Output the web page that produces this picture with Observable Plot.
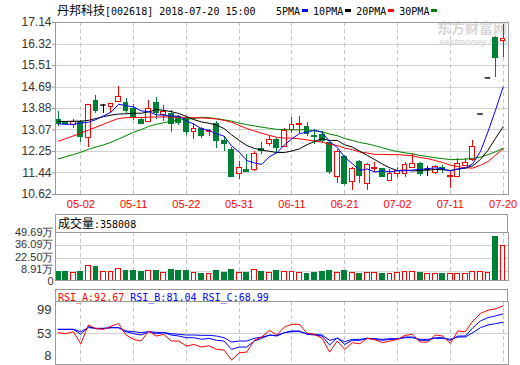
<!DOCTYPE html>
<html><head><meta charset="utf-8">
<script src="https://cdn.jsdelivr.net/npm/d3@7"></script>
<script src="https://cdn.jsdelivr.net/npm/@observablehq/plot@0.6"></script>
<style>
html,body{margin:0;padding:0;background:#fff;}
#wrap{position:relative;width:520px;height:365px;overflow:hidden;background:#fff;font-family:"Liberation Sans",Arial,sans-serif;}
.abs{position:absolute;}
.mono{font-family:"DejaVu Sans Mono","Liberation Mono",monospace;font-size:10px;white-space:pre;}
.cjk{font-family:"Noto Sans CJK SC",sans-serif;font-size:12px;}
.hdr{position:absolute;border:1px solid #9a9a9a;border-bottom:none;box-sizing:border-box;}
.sq{display:inline-block;width:6px;height:3px;margin:0 5px 0 2px;vertical-align:middle;}
</style></head><body>
<div id="wrap"></div>
<script>
// ---------- data ----------
const stockName = "丹邦科技";
const stockCode = "002618";
const stamp = "2018-07-20 15:00";
const maNames = ["5PMA","10PMA","20PMA","30PMA"];
const volLatest = "358008";
const rsiNames = ["RSI_A","RSI_B","RSI_C"];
const rsiLatest = ["92.67","81.04","68.99"];

const dates = ["04-25","04-26","04-27","05-02","05-03","05-04","05-07","05-08","05-09","05-10",
"05-11","05-14","05-15","05-16","05-17","05-18","05-21","05-22","05-23","05-24",
"05-25","05-28","05-29","05-30","05-31","06-01","06-04","06-05","06-06","06-07",
"06-08","06-11","06-12","06-13","06-14","06-15","06-19","06-20","06-21","06-22",
"06-25","06-26","06-27","06-28","06-29","07-02","07-03","07-04","07-05","07-06",
"07-09","07-10","07-11","07-12","07-13","07-16","07-17","07-18","07-19","07-20"];
const dateTicks = ["05-02","05-11","05-22","05-31","06-11","06-21","07-02","07-11","07-20"];

const openP = [13.44,13.36,13.25,13.37,12.77,14.18,14.01,13.94,14.12,14.08,
13.87,13.45,13.36,14.08,13.62,13.68,13.55,13.49,12.98,13.11,
12.98,13.30,12.64,12.32,11.40,11.54,11.54,12.33,12.55,12.70,
12.41,13.08,13.26,13.17,12.83,12.88,12.58,11.30,12.03,11.09,
11.84,11.03,11.60,11.57,11.15,11.40,11.40,11.64,11.78,11.58,
11.43,11.62,11.30,11.30,11.71,11.93,13.67,15.04,16.54,16.44];
const highP = [13.75,13.40,13.45,13.44,14.05,14.37,14.03,14.07,14.73,14.25,
14.05,13.53,14.20,14.28,14.00,13.80,13.60,13.55,13.30,13.17,
13.07,13.37,12.80,12.42,11.86,12.15,12.24,12.58,12.84,12.74,
13.11,13.54,13.58,13.36,13.10,13.00,12.67,12.34,12.10,11.65,
11.90,11.81,11.84,11.62,11.58,11.65,11.84,12.16,11.85,11.68,
11.73,11.71,11.50,12.00,11.98,12.66,13.67,15.04,16.60,17.08];
const lowP = [13.18,13.22,13.14,12.60,12.41,13.69,13.70,13.71,14.10,13.68,
13.42,13.27,13.35,13.45,13.40,12.98,13.25,12.85,12.70,12.75,
12.80,12.38,12.25,11.25,11.17,11.44,11.49,12.12,12.44,12.23,
12.41,12.93,12.94,12.80,12.52,12.57,11.36,11.05,10.97,10.76,
11.04,10.76,11.44,11.25,11.10,11.25,11.25,11.60,11.30,11.30,
11.39,11.43,10.86,11.28,11.68,11.87,13.67,15.04,15.04,15.80];
const closeP = [13.31,13.29,13.37,12.81,14.03,13.78,14.01,14.06,14.31,13.78,
13.52,13.30,13.87,13.72,13.74,13.30,13.32,12.98,13.11,12.82,
13.04,12.64,12.54,11.28,11.63,11.48,12.15,12.27,12.70,12.39,
13.01,13.26,13.30,12.92,12.79,12.64,11.46,12.22,11.03,11.59,
11.34,11.75,11.63,11.28,11.40,11.52,11.75,11.78,11.38,11.58,
11.66,11.58,11.33,11.79,11.80,12.43,13.67,15.04,15.80,16.52];
// volume in 万 (10k)
const volume = [8.6,8.6,7.9,9.3,14.5,13.5,9.3,9.3,11.4,9.7,
9.7,8.6,9.7,9.7,7.9,10.7,9.7,9.7,7.6,7.2,
7.2,9.7,7.6,10.7,7.9,7.9,10.4,8.6,7.9,9.7,
9.0,9.0,7.6,7.2,7.6,8.6,9.7,7.9,9.7,7.9,
7.2,7.6,7.6,7.2,7.2,7.6,8.6,9.3,7.6,6.6,
6.6,6.6,7.2,7.2,6.6,9.3,8.6,7.9,44.9,35.80];

const ma5 = [13.30,13.28,13.28,13.33,13.36,13.46,13.60,13.74,14.04,13.99,
13.94,13.79,13.76,13.64,13.63,13.59,13.59,13.41,13.29,13.11,
13.05,12.92,12.83,12.46,12.23,11.91,11.82,11.76,12.05,12.20,
12.50,12.73,12.93,12.98,13.06,12.98,12.62,12.41,12.03,11.79,
11.53,11.59,11.47,11.52,11.48,11.52,11.52,11.55,11.57,11.60,
11.63,11.60,11.51,11.59,11.63,11.79,12.25,13.00,13.82,14.69];
const ma10 = [13.39,13.39,13.40,13.40,13.43,13.50,13.57,13.63,13.67,13.68,
13.70,13.70,13.75,13.84,13.81,13.76,13.69,13.58,13.46,13.37,
13.32,13.25,13.12,12.88,12.67,12.48,12.37,12.30,12.26,12.21,
12.21,12.27,12.35,12.51,12.63,12.74,12.67,12.67,12.50,12.42,
12.26,12.10,11.94,11.77,11.63,11.52,11.55,11.51,11.54,11.54,
11.57,11.56,11.53,11.58,11.62,11.71,11.95,12.30,12.75,13.18];
const ma20 = [12.64,12.74,12.84,12.95,13.06,13.17,13.28,13.40,13.50,13.53,
13.54,13.54,13.55,13.56,13.56,13.56,13.55,13.54,13.53,13.52,
13.51,13.48,13.43,13.36,13.24,13.12,13.03,12.94,12.86,12.79,
12.76,12.76,12.73,12.69,12.65,12.61,12.52,12.48,12.38,12.32,
12.23,12.19,12.14,12.14,12.13,12.13,12.11,12.09,12.02,11.98,
11.91,11.83,11.73,11.68,11.63,11.62,11.73,11.87,12.11,12.35];
const ma30 = [11.97,12.05,12.13,12.22,12.33,12.42,12.50,12.60,12.72,12.85,
12.98,13.08,13.20,13.28,13.34,13.40,13.44,13.47,13.50,13.55,
13.53,13.50,13.45,13.40,13.33,13.27,13.22,13.17,13.13,13.09,
13.08,13.07,13.07,13.08,13.03,13.00,12.91,12.85,12.74,12.67,
12.59,12.54,12.47,12.39,12.31,12.25,12.20,12.16,12.10,12.06,
12.01,11.98,11.94,11.95,11.96,11.99,12.04,12.13,12.24,12.37];

const rsiA = [54.0,52.5,55.4,38.0,65.1,59.8,58.8,63.2,67.1,50.6,
44.3,41.9,56.4,49.1,51.6,41.9,41.9,34.6,37.0,33.2,
35.1,29.8,28.8,14.3,24.9,25.9,42.9,47.7,57.4,50.6,
62.2,66.1,66.1,53.0,51.6,45.8,25.9,41.9,29.8,39.5,
38.0,45.8,43.8,39.5,41.9,44.3,50.1,51.6,40.4,40.4,
50.6,49.1,38.5,56.4,55.4,70.9,81.6,86.4,88.4,92.67];
const rsiB = [58.8,58.8,58.8,51.6,62.7,59.8,59.8,61.2,61.2,55.4,
52.5,50.6,55.4,52.5,54.0,50.6,49.1,46.7,46.7,44.3,
45.8,42.9,41.9,29.8,33.2,33.2,41.9,45.8,50.6,49.1,
54.0,56.4,56.4,51.6,50.6,49.1,36.1,46.7,37.0,42.9,
42.9,45.8,44.3,42.9,44.3,44.3,47.7,47.7,42.9,42.9,
46.7,46.7,42.9,49.1,49.1,61.2,70.9,75.8,78.2,81.04];
const rsiC = [58.8,58.8,58.8,55.4,61.2,60.3,60.3,61.2,61.2,56.4,
55.4,54.0,55.4,54.5,54.0,52.5,51.6,50.6,50.6,50.1,
50.1,49.1,46.7,40.4,41.9,41.9,45.8,47.7,50.1,50.1,
54.0,55.4,55.4,52.5,51.6,50.6,42.9,45.8,40.9,44.3,
44.3,45.8,45.3,44.3,45.3,45.3,46.7,46.7,44.3,44.3,
45.8,45.8,44.3,47.7,47.7,54.0,61.2,65.1,67.1,68.99];

const priceTicks = [17.14,16.32,15.51,14.69,13.88,13.07,12.25,11.44,10.62];
const volTicks = [0,8.91,22.50,36.09,49.69];
const volTickLabels = ["0","8.91万","22.50万","36.09万","49.69万"];
const rsiTicks = [99,53,8];

// ---------- style ----------
const RED = "#ff0000", GREEN = "#007f37", BLUE = "#0000ff", BLACK = "#000000", MAGREEN = "#008000";
const GRID = "#d2d2d2", VGRID = "#c4c4c4", FRAME = "#9a9a9a", TXT = "#333333";
const maColors = [BLUE, BLACK, RED, MAGREEN];
const X_DOMAIN = [-0.36, 59.72];
const HALF = 0.32;
const volLabelShift = [1.2, -2.5, -1.7, -0.8, 0];   // label nudges (px), as in the reference
const rsiLabelShift = [8, 0, -9];

const candles = dates.map((date, i) => ({i, date, o: openP[i], h: highP[i], l: lowP[i], c: closeP[i], v: volume[i]}));
const tickIdx = dateTicks.map(t => dates.indexOf(t));
const upC = candles.filter(d => d.c > d.o);
const downC = candles.filter(d => d.c < d.o);
const flatC = candles.filter(d => d.c === d.o);
const volUp = candles.filter(d => d.c >= d.o);
const volDown = candles.filter(d => d.c < d.o);
const lineOf = (arr, color) => Plot.line(arr, {x: (d, i) => i, y: d => d, stroke: color, strokeWidth: 1});
const baseStyle = {background: "transparent", overflow: "visible", fontFamily: '"Liberation Sans", Arial, sans-serif'};

const wrap = document.getElementById("wrap");
function place(node, left, top) {
  const d = document.createElement("div");
  d.className = "abs"; d.style.left = left + "px"; d.style.top = top + "px";
  d.appendChild(node); wrap.appendChild(d); return d;
}

// ---------- main price panel ----------
const main = Plot.plot({
  width: 520, height: 212, marginLeft: 55, marginRight: 12, marginTop: 22, marginBottom: 18,
  style: baseStyle,
  x: {type: "linear", domain: X_DOMAIN},
  y: {domain: [10.62, 17.14]},
  marks: [
    Plot.text(["东方财富网"], {text: d => d, frameAnchor: "top-right", dx: -1.5, dy: 1, fontSize: 14, fontWeight: "bold", fill: "#d6d6d6", fontFamily: "Noto Sans CJK SC", lineAnchor: "top"}),
    Plot.text(["eastmoney.com"], {text: d => d, frameAnchor: "top-right", dx: -1.5, dy: 16, fontSize: 9, fontWeight: "bold", fontStyle: "italic", fill: "#dadada", lineAnchor: "top"}),
    Plot.ruleY(priceTicks.slice(1, -1), {y: d => d, stroke: GRID, shapeRendering: "crispEdges"}),
    Plot.ruleX(tickIdx, {x: d => d, stroke: VGRID, strokeDasharray: "4,3", shapeRendering: "crispEdges"}),
    Plot.axisY(priceTicks, {tickSize: 3, tickPadding: 1, tickFormat: d => d.toFixed(2), fontSize: 12, fill: TXT, stroke: FRAME, label: null}),
    Plot.axisX(tickIdx, {tickSize: 0, tickPadding: 6, tickFormat: i => dates[i], fontSize: 11, fill: RED, label: null}),
    // wicks
    Plot.ruleX(downC, {x: "i", y1: "l", y2: "h", stroke: GREEN, shapeRendering: "crispEdges"}),
    Plot.ruleX(upC, {x: "i", y1: "l", y2: "h", stroke: RED, shapeRendering: "crispEdges"}),
    Plot.ruleX(flatC, {x: "i", y1: "l", y2: "h", stroke: BLACK, shapeRendering: "crispEdges"}),
    // bodies
    Plot.rect(downC, {x1: d => d.i - HALF, x2: d => d.i + HALF, y1: "o", y2: "c", fill: GREEN, stroke: GREEN, shapeRendering: "crispEdges"}),
    Plot.rect(upC, {x1: d => d.i - HALF, x2: d => d.i + HALF, y1: "o", y2: "c", fill: "white", stroke: RED, shapeRendering: "crispEdges"}),
    Plot.ruleY(flatC, {y: "c", x1: d => d.i - HALF - 0.05, x2: d => d.i + HALF + 0.05, stroke: BLACK, strokeWidth: 1.4}),
    // moving averages
    lineOf(ma30, MAGREEN), lineOf(ma20, RED), lineOf(ma10, BLACK), lineOf(ma5, BLUE),
    Plot.frame({stroke: FRAME})
  ]
});
place(main, 0, 0);

// title + legend
const title = document.createElement("div");
title.style.cssText = "position:absolute;left:57px;top:3px;height:14px;line-height:14px;color:#000;white-space:nowrap;";
title.innerHTML = `<span class="cjk">${stockName}</span><span class="mono">[${stockCode}] ${stamp}</span>`;
wrap.appendChild(title);
const legend = document.createElement("div");
legend.style.cssText = "position:absolute;left:276px;top:3px;height:14px;line-height:14px;color:#000;white-space:nowrap;";
legend.innerHTML = maNames.map((n, k) => `<span class="mono">${n}</span><span class="sq" style="background:${maColors[k]}"></span>`).join("");
wrap.appendChild(legend);

// ---------- volume panel ----------
const volHdr = document.createElement("div");
volHdr.className = "hdr";
volHdr.style.cssText += "left:55px;top:214px;width:453px;height:18px;line-height:16px;padding-left:2px;white-space:nowrap;color:#000;";
volHdr.innerHTML = `<span class="cjk">成交量</span><span class="mono">:${volLatest}</span>`;
wrap.appendChild(volHdr);

const volPlot = Plot.plot({
  width: 520, height: 67, marginLeft: 55, marginRight: 12, marginTop: 18, marginBottom: 1,
  style: baseStyle,
  x: {type: "linear", domain: X_DOMAIN, axis: null},
  y: {domain: [0, 49.69], axis: null},
  marks: [
    Plot.ruleY(volTicks.slice(1, -1), {y: d => d, stroke: GRID, shapeRendering: "crispEdges"}),
    Plot.ruleX(tickIdx, {x: d => d, stroke: VGRID, strokeDasharray: "4,3", shapeRendering: "crispEdges"}),
    ...volTicks.map((t, k) => Plot.text([t], {y: d => d, text: () => volTickLabels[k], frameAnchor: "left", dx: -2, dy: volLabelShift[k], textAnchor: "end", fontSize: 11, fill: TXT})),
    Plot.rect(volDown, {x1: d => d.i - HALF, x2: d => d.i + HALF, y1: 0, y2: "v", fill: GREEN, stroke: GREEN, shapeRendering: "crispEdges"}),
    Plot.rect(volUp, {x1: d => d.i - HALF, x2: d => d.i + HALF, y1: 0, y2: "v", fill: "white", stroke: RED, shapeRendering: "crispEdges"}),
    Plot.frame({stroke: FRAME})
  ]
});
place(volPlot, 0, 214);

// ---------- RSI panel ----------
const rsiHdr = document.createElement("div");
rsiHdr.className = "hdr";
rsiHdr.style.cssText += "left:55px;top:289px;width:453px;height:12px;line-height:11px;padding-left:2px;white-space:nowrap;";
const rsiColors = [RED, BLUE, BLUE];
rsiHdr.innerHTML = rsiNames.map((n, k) => `<span class="mono" style="color:${rsiColors[k]}">${n}:${rsiLatest[k]}</span>`).join('<span class="mono"> </span>');
wrap.appendChild(rsiHdr);

const rsiPlot = Plot.plot({
  width: 520, height: 76, marginLeft: 55, marginRight: 12, marginTop: 12, marginBottom: 1,
  style: baseStyle,
  x: {type: "linear", domain: X_DOMAIN, axis: null},
  y: {domain: [8, 99], axis: null},
  marks: [
    Plot.ruleY([rsiTicks[1]], {y: d => d, stroke: GRID, shapeRendering: "crispEdges"}),
    Plot.ruleX(tickIdx, {x: d => d, stroke: VGRID, strokeDasharray: "4,3", shapeRendering: "crispEdges"}),
    ...rsiTicks.map((t, k) => Plot.text([t], {y: d => d, text: d => String(d), frameAnchor: "left", dx: -4, dy: rsiLabelShift[k], textAnchor: "end", fontSize: 13, fill: TXT})),
    lineOf(rsiC, BLUE), lineOf(rsiB, BLUE), lineOf(rsiA, RED),
    Plot.frame({stroke: FRAME})
  ]
});
place(rsiPlot, 0, 289);
</script>
</body></html>
